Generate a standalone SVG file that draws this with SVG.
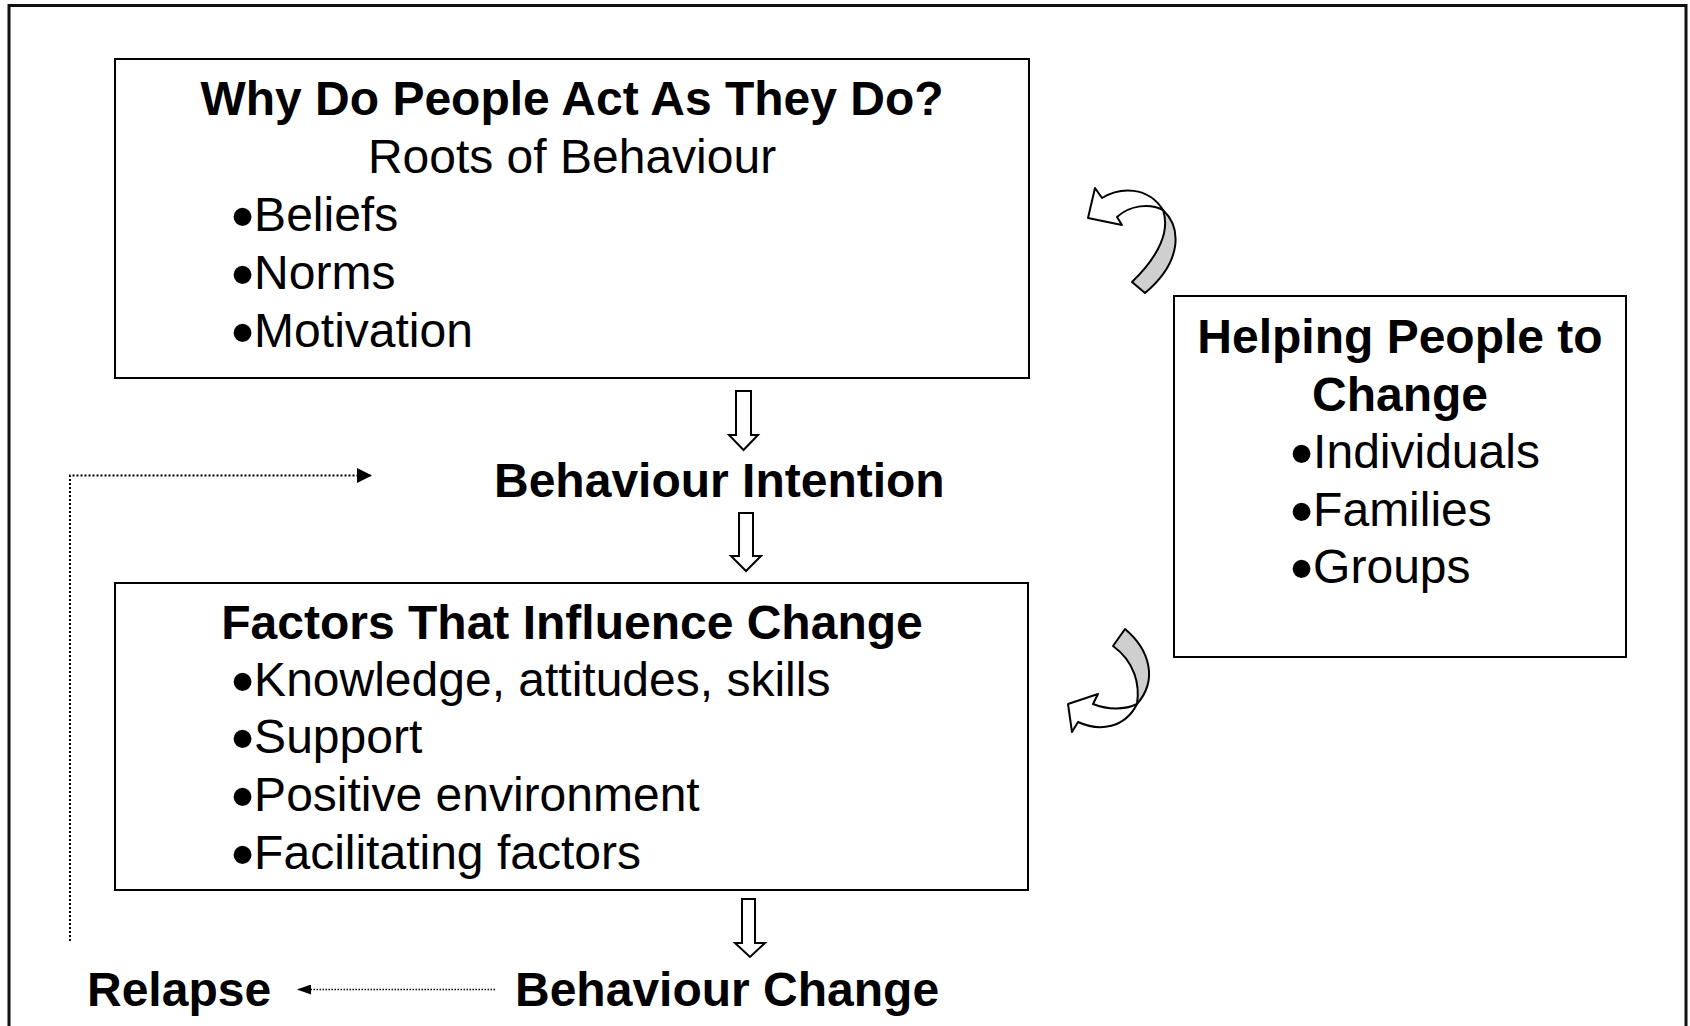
<svg xmlns="http://www.w3.org/2000/svg" width="1690" height="1026" viewBox="0 0 1690 1026">
<defs>
<style>
.t{font-family:"Liberation Sans",Arial,sans-serif;font-size:48px;fill:#000}
.b{font-weight:bold}
.bu{font-size:66px}
.box{fill:#fff;stroke:#000;stroke-width:2}
.blk{fill:#fff;stroke:#000;stroke-width:2;stroke-linejoin:miter}
.dot{fill:none;stroke:#000;stroke-width:2;stroke-dasharray:2 2}
.dot2{fill:none;stroke:#000;stroke-width:1.5;stroke-dasharray:1.5 1.5}
.cw{fill:#fff;stroke:#000;stroke-width:2;stroke-linejoin:round}
.cg{fill:#cfcfcf;stroke:#000;stroke-width:2;stroke-linejoin:round}
</style>
<marker id="ah" viewBox="0 0 10 10" refX="10" refY="5" markerWidth="15" markerHeight="15" markerUnits="userSpaceOnUse" orient="auto"><path d="M0,0 L10,5 L0,10 Z" fill="#000"/></marker>
<marker id="ah2" viewBox="0 0 14 10" refX="14" refY="5" markerWidth="14" markerHeight="10" markerUnits="userSpaceOnUse" orient="auto"><path d="M0,0 L14,5 L0,10 Z" fill="#000"/></marker>
</defs>
<rect x="0" y="0" width="1690" height="1026" fill="#fff"/>
<path d="M9,1030 L9,5.5 L1686,5.5 L1686,1030" fill="none" stroke="#111" stroke-width="3"/>

<g id="node-roots">
<rect class="box" x="115" y="59" width="914" height="319"/>
<text class="t b" x="572" y="115" text-anchor="middle">Why Do People Act As They Do?</text>
<text class="t" x="572" y="173" text-anchor="middle">Roots of Behaviour</text>
<text class="t" x="231" y="231"><tspan class="bu" dy="8">•</tspan><tspan dy="-8">Beliefs</tspan></text>
<text class="t" x="231" y="289"><tspan class="bu" dy="8">•</tspan><tspan dy="-8">Norms</tspan></text>
<text class="t" x="231" y="347"><tspan class="bu" dy="8">•</tspan><tspan dy="-8">Motivation</tspan></text>
</g>

<g id="node-intention">
<text class="t b" x="494" y="497">Behaviour Intention</text>
</g>

<g id="node-factors">
<rect class="box" x="115" y="583" width="913" height="307"/>
<text class="t b" x="572" y="639" text-anchor="middle">Factors That Influence Change</text>
<text class="t" x="231" y="696"><tspan class="bu" dy="8">•</tspan><tspan dy="-8">Knowledge, attitudes, skills</tspan></text>
<text class="t" x="231" y="753"><tspan class="bu" dy="8">•</tspan><tspan dy="-8">Support</tspan></text>
<text class="t" x="231" y="811"><tspan class="bu" dy="8">•</tspan><tspan dy="-8">Positive environment</tspan></text>
<text class="t" x="231" y="869"><tspan class="bu" dy="8">•</tspan><tspan dy="-8">Facilitating factors</tspan></text>
</g>

<g id="node-helping">
<rect class="box" x="1174" y="296" width="452" height="361"/>
<text class="t b" x="1400" y="353" text-anchor="middle">Helping People to</text>
<text class="t b" x="1400" y="411" text-anchor="middle">Change</text>
<text class="t" x="1290" y="468"><tspan class="bu" dy="8">•</tspan><tspan dy="-8">Individuals</tspan></text>
<text class="t" x="1290" y="526"><tspan class="bu" dy="8">•</tspan><tspan dy="-8">Families</tspan></text>
<text class="t" x="1290" y="583"><tspan class="bu" dy="8">•</tspan><tspan dy="-8">Groups</tspan></text>
</g>

<g id="node-change">
<text class="t b" x="515" y="1006">Behaviour Change</text>
</g>

<g id="node-relapse">
<text class="t b" x="87" y="1006">Relapse</text>
</g>

<g id="connectors">
<path class="blk" d="M736,391 L751,391 L751,435 L758,435 L743.5,450 L729,435 L736,435 Z"/>
<path class="blk" d="M739,513 L753,513 L753,556 L761,556 L746,571 L731,556 L739,556 Z"/>
<path class="blk" d="M742,899 L755,899 L755,943 L765,943 L750,957 L735,943 L742,943 Z"/>
<path class="dot" d="M70,941 L70,475.5 L372,475.5" marker-end="url(#ah)"/>
<path class="dot2" d="M495,989.5 L297,989.5" marker-end="url(#ah2)"/>
<g id="curve-top">
<path class="cw" d="M1088,218 L1095,188 L1102,198 C1120,187 1148,186 1163,210 C1150,203 1130,205 1117,217 L1122,225 Z"/>
<path class="cg" d="M1163,210 C1182,228 1182,262 1145,293 L1132,282 C1160,255 1170,230 1163,210 Z"/>
</g>
<g id="curve-bottom">
<path class="cg" d="M1125,629 C1150,650 1158,680 1137,704 C1140,685 1135,662 1113,646 Z"/>
<path class="cw" d="M1137,704 C1125,710 1108,710 1093,704 L1098,694 L1068,704 L1072,732 L1078,722 C1100,732 1125,728 1137,704 Z"/>
</g>
</g>
</svg>
